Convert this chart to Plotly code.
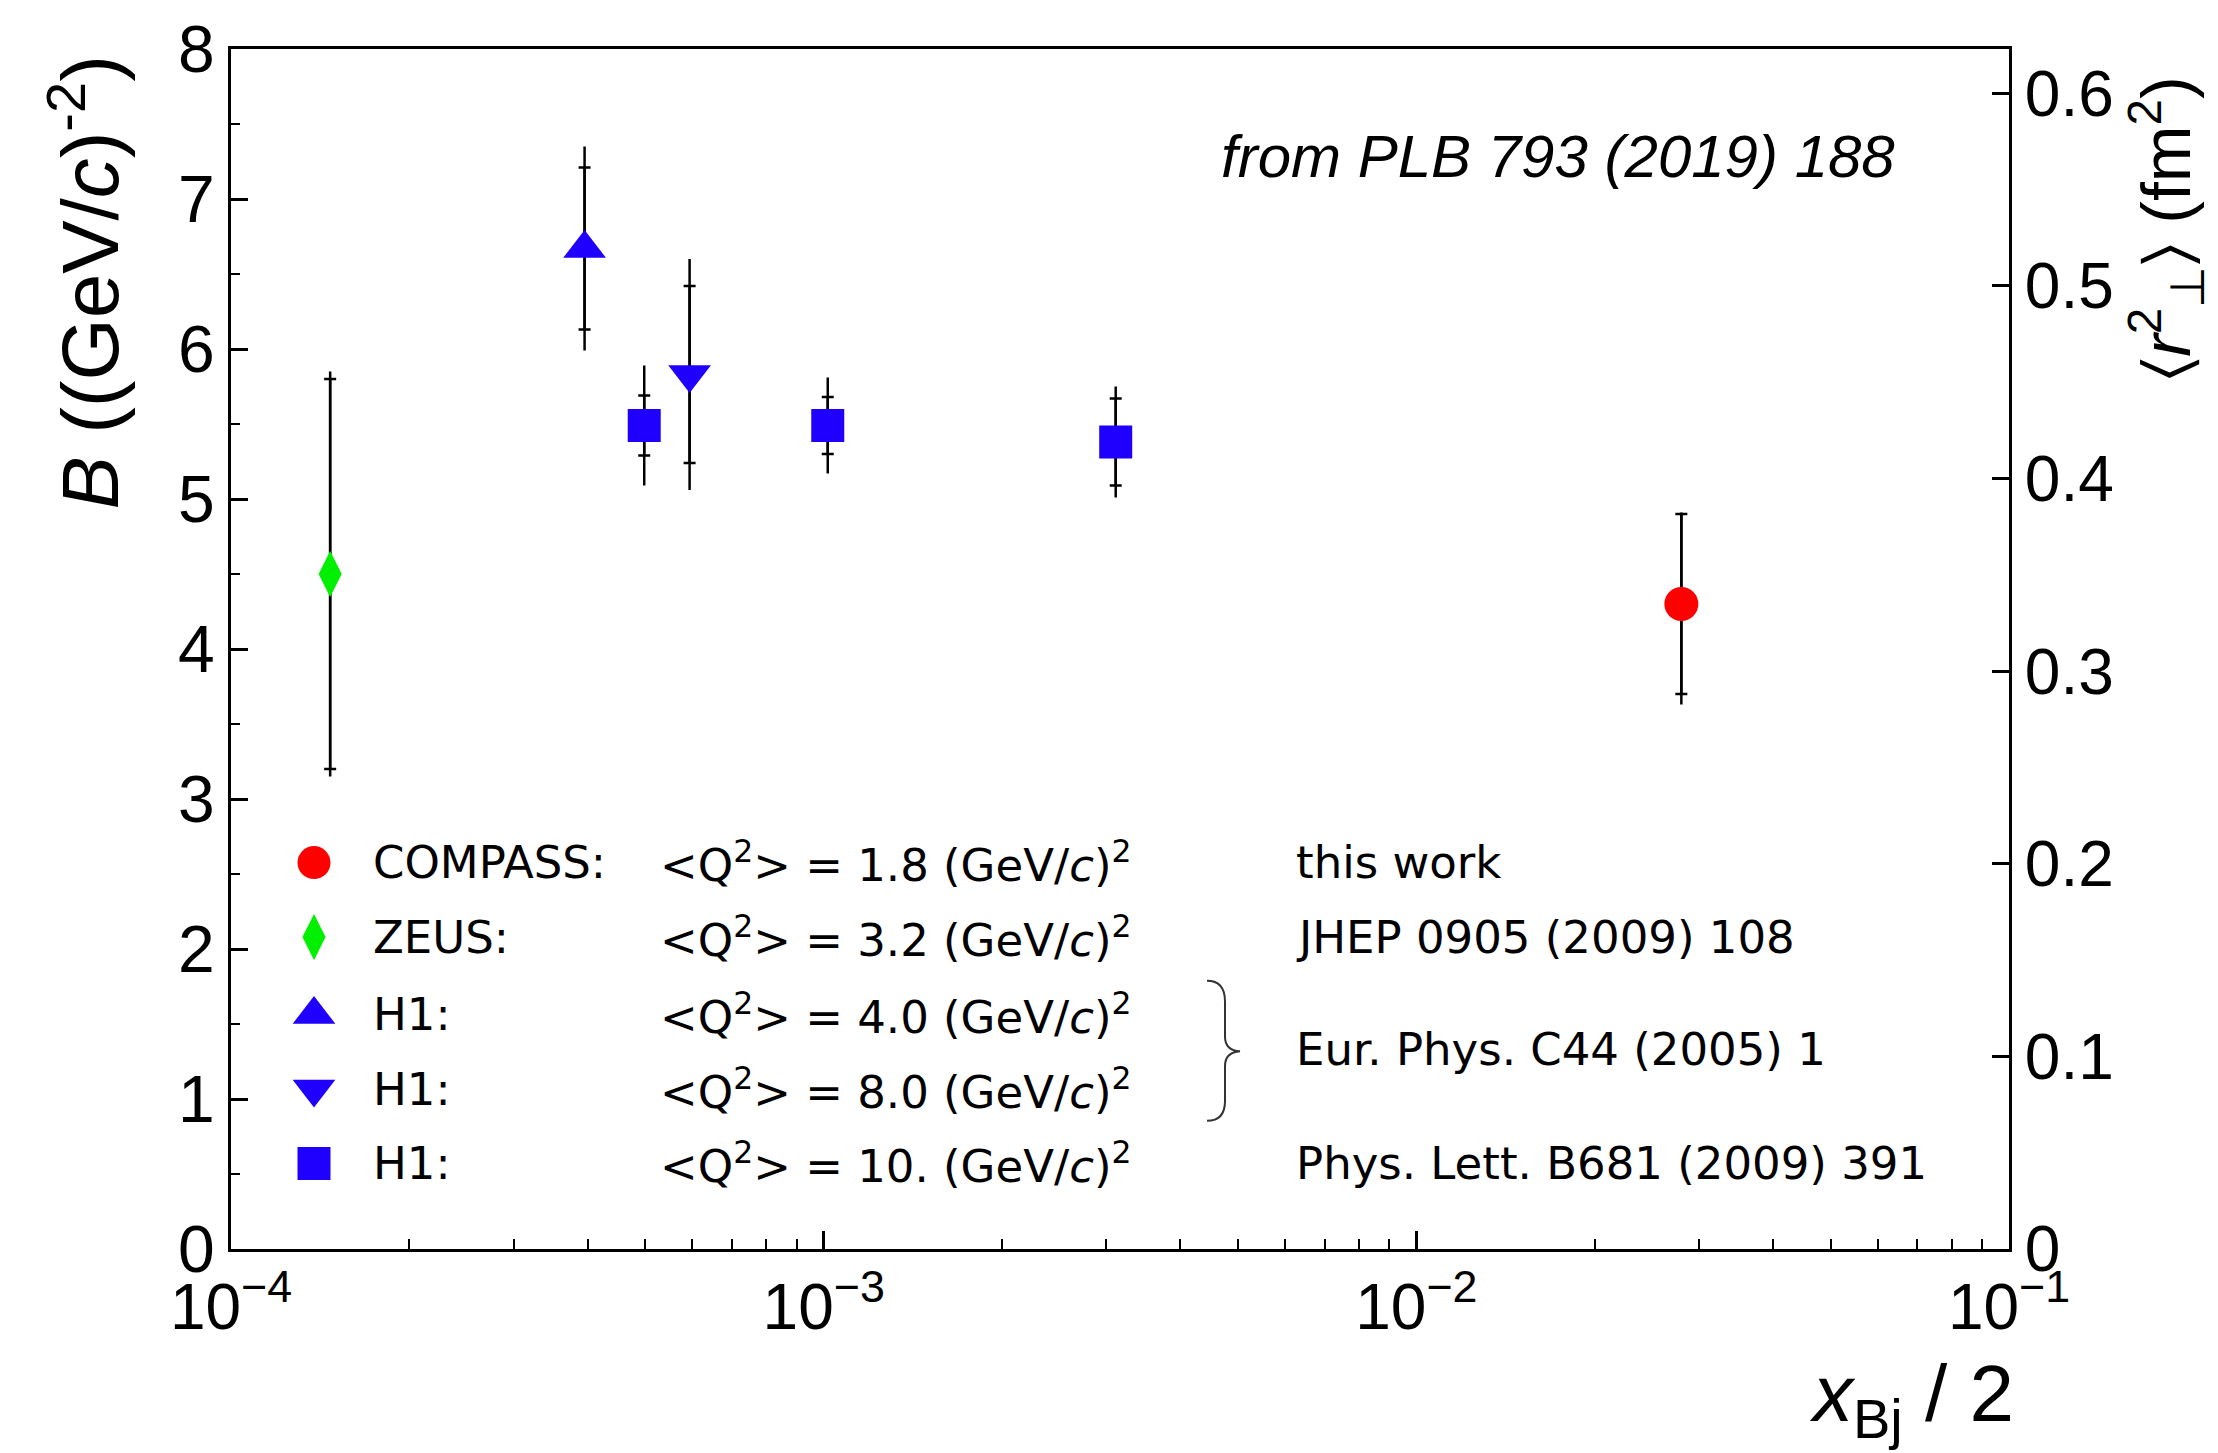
import plotly.graph_objects as go

# ---------------- data ----------------
compass_x = [0.0280]
compass_B = [4.30]
compass_stat_up = [0.60]
compass_stat_dn = [0.60]
compass_tot_up = [0.61]
compass_tot_dn = [0.67]

zeus_x = [1.47e-4]
zeus_B = [4.50]
zeus_stat = [1.30]
zeus_tot = [1.35]

h1q4_x = [3.95e-4]
h1q4_B = [6.67]
h1q4_stat = [0.54]
h1q4_tot = [0.68]

h1q8_x = [5.94e-4]
h1q8_B = [5.83]
h1q8_stat = [0.59]
h1q8_tot = [0.77]

h1q10_x = [4.98e-4, 1.016e-3, 3.11e-3]
h1q10_B = [5.49, 5.49, 5.38]
h1q10_stat = [0.20, 0.19, 0.29]
h1q10_tot = [0.40, 0.32, 0.37]

x_tickvals = [1e-4, 1e-3, 1e-2, 1e-1]
x_ticktext = ["10<sup>\u22124</sup>", "10<sup>\u22123</sup>", "10<sup>\u22122</sup>", "10<sup>\u22121</sup>"]
r2_tickvals = [0, 0.1, 0.2, 0.3, 0.4, 0.5, 0.6]
r2_ticktext = ["0", "0.1", "0.2", "0.3", "0.4", "0.5", "0.6"]
HBARC2 = 0.0389379  # GeV^2 fm^2
B_MAX = 8.0

legend_names = ["COMPASS:", "ZEUS:", "H1:", "H1:", "H1:"]
legend_q2 = ["1.8", "3.2", "4.0", "8.0", "10."]
legend_refs = ["this work", "JHEP 0905 (2009) 108", None, None, "Phys. Lett. B681 (2009) 391"]
h1_2005_ref = "Eur. Phys. C44 (2005) 1"

RED = "#ff0000"
GREEN = "#00f000"
BLUE = "#1f00ff"

# ---------------- geometry ----------------
W, H = 2218, 1453
L, R, T, Bm = 231, 2009, 41, 1249


def px(x):
    return (x - L) / (R - L)


def py(y):
    return (Bm - y) / (Bm - T)


fig = go.Figure()


def add_series(x, y, up_tot, dn_tot, up_stat, dn_stat, symbol, size, color):
    fig.add_trace(go.Scatter(
        x=x, y=y, mode="markers",
        marker=dict(size=size, color="rgba(0,0,0,0)", symbol=symbol),
        error_y=dict(type="data", symmetric=False, array=up_tot, arrayminus=dn_tot,
                     color="black", thickness=2.5, width=0),
        showlegend=False, hoverinfo="skip"))
    fig.add_trace(go.Scatter(
        x=x, y=y, mode="markers",
        marker=dict(size=size, color=color, symbol=symbol, opacity=1, line=dict(width=0)),
        error_y=dict(type="data", symmetric=False, array=up_stat, arrayminus=dn_stat,
                     color="black", thickness=2.5, width=6),
        showlegend=False))


add_series(zeus_x, zeus_B, zeus_tot, zeus_tot, zeus_stat, zeus_stat, "diamond-tall", 33, GREEN)
add_series(h1q4_x, h1q4_B, h1q4_tot, h1q4_tot, h1q4_stat, h1q4_stat, "triangle-up", 37, BLUE)
add_series(h1q8_x, h1q8_B, h1q8_tot, h1q8_tot, h1q8_stat, h1q8_stat, "triangle-down", 37, BLUE)
add_series(h1q10_x, h1q10_B, h1q10_tot, h1q10_tot, h1q10_stat, h1q10_stat, "square", 33, BLUE)
add_series(compass_x, compass_B, compass_tot_up, compass_tot_dn, compass_stat_up, compass_stat_dn,
           "circle", 34, RED)

# empty trace on right axis so it is drawn
fig.add_trace(go.Scatter(x=[], y=[], yaxis="y2", showlegend=False))

# legend markers on an overlay axis (0..1 in plot fraction)
row_y_px = [860, 935, 1013, 1088, 1163]
leg_symbols = ["circle", "diamond-tall", "triangle-up", "triangle-down", "square"]
leg_sizes = [33, 33, 37, 37, 33]
leg_colors = [RED, GREEN, BLUE, BLUE, BLUE]
fig.add_trace(go.Scatter(
    x=[px(314)] * 5, y=[py(v) for v in row_y_px], mode="markers",
    xaxis="x3", yaxis="y3",
    marker=dict(symbol=leg_symbols, size=leg_sizes, color=leg_colors, opacity=1, line=dict(width=0)),
    showlegend=False, hoverinfo="skip"))

TXT = dict(family="DejaVu Sans", size=45, color="black")
ann = []
for i, yy in enumerate(row_y_px):
    ann.append(dict(x=px(371), y=py(yy), text=legend_names[i], xanchor="left", yanchor="middle", font=TXT))
    ann.append(dict(x=px(658), y=py(yy),
                    text="&lt;Q<sup>2</sup>&gt; = " + legend_q2[i] + " (GeV/<i>c</i>)<sup>2</sup>",
                    xanchor="left", yanchor="middle", font=TXT))
    if legend_refs[i]:
        ann.append(dict(x=px(1294), y=py(yy), text=legend_refs[i], xanchor="left", yanchor="middle", font=TXT))
ann.append(dict(x=px(1294), y=py(1048), text=h1_2005_ref, xanchor="left", yanchor="middle", font=TXT))

# titles
ann.append(dict(x=px(85), y=py(276), text="<i>B</i> ((GeV/<i>c</i>)<sup>-2</sup>)", textangle=-90,
                xanchor="center", yanchor="middle",
                font=dict(family="Liberation Sans, Arial", size=80, color="black")))
ann.append(dict(x=px(2166), y=py(222),
                text="\u2329<i>r</i><sup>2</sup><sub>\u22a5</sub>\u232a (fm<sup>2</sup>)", textangle=-90,
                xanchor="center", yanchor="middle",
                font=dict(family="Liberation Sans, Arial", size=68, color="black")))
ann.append(dict(x=px(2016), y=py(1400), text="<i>x</i><sub>Bj</sub> / 2",
                xanchor="right", yanchor="middle",
                font=dict(family="Liberation Sans, Arial", size=80, color="black")))
ann.append(dict(x=px(1558), y=py(149), text="<i>from PLB 793 (2019) 188</i>",
                xanchor="center", yanchor="middle",
                font=dict(family="Liberation Sans, Arial", size=60, color="black")))
for a in ann:
    a.update(xref="paper", yref="paper", showarrow=False)

# brace
def P(x, y):
    return f"{px(x):.5f},{py(y):.5f}"

brace = ("M " + P(1207, 979) + " Q " + P(1225, 979) + " " + P(1225, 1000) +
         " L " + P(1225, 1035) + " Q " + P(1225, 1049) + " " + P(1240, 1050) +
         " Q " + P(1225, 1051) + " " + P(1225, 1065) +
         " L " + P(1225, 1100) + " Q " + P(1225, 1120) + " " + P(1207, 1120))

fig.update_layout(
    width=W, height=H,
    margin=dict(l=L, r=W - R, t=T, b=H - Bm, pad=0),
    paper_bgcolor="white", plot_bgcolor="white",
    showlegend=False,
    annotations=ann,
    shapes=[dict(type="path", path=brace, xref="paper", yref="paper",
                 line=dict(color="#333333", width=2))],
    xaxis=dict(type="log", range=[-4, -1], tickvals=x_tickvals, ticktext=x_ticktext,
               ticks="inside", ticklen=18, tickwidth=2.5, tickcolor="black",
               showline=True, linewidth=3, linecolor="black", mirror=True,
               showgrid=False, zeroline=False,
               tickfont=dict(family="Liberation Sans, Arial", size=64, color="black"),
               minor=dict(ticks="inside", ticklen=10, tickwidth=2, tickcolor="black",
                          dtick="D1", showgrid=False)),
    yaxis=dict(range=[0, B_MAX], dtick=1, tick0=0,
               ticks="inside", ticklen=17, tickwidth=2.5, tickcolor="black",
               showline=True, linewidth=3, linecolor="black", mirror=True,
               showgrid=False, zeroline=False,
               tickfont=dict(family="Liberation Sans, Arial", size=66, color="black"),
               minor=dict(ticks="inside", ticklen=9, tickwidth=2, tickcolor="black",
                          dtick=0.5, showgrid=False)),
    yaxis2=dict(overlaying="y", side="right", range=[0, 2 * B_MAX * HBARC2],
                tickvals=r2_tickvals, ticktext=r2_ticktext,
                ticks="inside", ticklen=17, tickwidth=2.5, tickcolor="black",
                showline=True, linewidth=3, linecolor="black",
                showgrid=False, zeroline=False,
                tickfont=dict(family="Liberation Sans, Arial", size=64, color="black")),
    xaxis3=dict(overlaying="x", range=[0, 1], visible=False),
    yaxis3=dict(overlaying="y", range=[0, 1], visible=False),
)

fig.write_html("out.html")
